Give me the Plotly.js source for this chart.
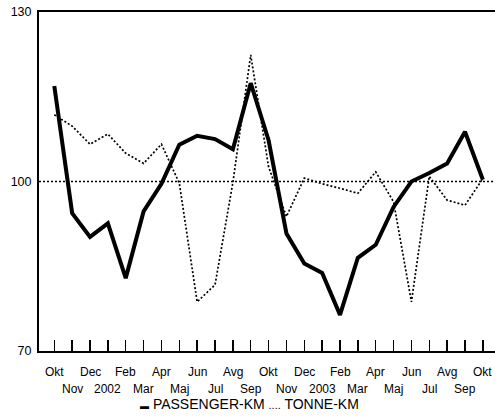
<!DOCTYPE html>
<html>
<head>
<meta charset="utf-8">
<script src="https://cdn.plot.ly/plotly-3.0.1.min.js"></script>
<style>
  html, body { margin: 0; padding: 0; background: #fff; }
  #chart { width: 495px; height: 419px; }
</style>
</head>
<body>
<div id="chart"></div>
<script>
// Month labels (Okt 2001 .. Okt 2003)
var months = ['Okt','Nov','Dec','2002','Feb','Mar','Apr','Maj','Jun','Jul','Avg','Sep',
              'Okt','Nov','Dec','2003','Feb','Mar','Apr','Maj','Jun','Jul','Avg','Sep','Okt'];
// Series values (index)
var passengerKm = [116.9, 94.4, 90.2, 92.6, 82.9, 94.7, 99.6, 106.5, 108.1, 107.5, 105.7, 117.4,
                   107.3, 90.8, 85.5, 83.8, 76.4, 86.5, 88.8, 95.5, 100.0, 101.5, 103.2, 108.8, 100.3];
var tonneKm     = [111.8, 109.8, 106.6, 108.4, 105.0, 103.2, 106.6, 99.7, 78.7, 81.7, 99.8, 122.4,
                   102.6, 93.8, 100.6, 99.6, 98.8, 97.9, 101.7, 96.4, 78.7, 100.9, 96.7, 95.8, 100.5];
var seriesNames = ['PASSENGER-KM', 'TONNE-KM'];
var yTicks = [70, 100, 130];
var baseLevel = 100;

var xIdx = months.map(function (m, i) { return i; });
var FONT = 'Liberation Sans, Arial, sans-serif';

var traces = [
  { x: xIdx, y: passengerKm, name: seriesNames[0], type: 'scatter', mode: 'lines',
    line: { color: '#000', width: 4 }, hoverinfo: 'skip' },
  { x: xIdx, y: tonneKm, name: seriesNames[1], type: 'scatter', mode: 'lines',
    line: { color: '#000', width: 1.7, dash: '2px,2px' }, hoverinfo: 'skip' }
];

var annotations = [];
months.forEach(function (m, i) {
  annotations.push({
    x: i, y: 0, xref: 'x', yref: 'paper', text: m, showarrow: false,
    xanchor: 'center', yanchor: 'middle', yshift: (i % 2 === 0) ? -21 : -38,
    font: { family: FONT, size: 12, color: '#000' }
  });
});
annotations.push({
  x: 0.4627, y: 0, xref: 'paper', yref: 'paper', showarrow: false,
  xanchor: 'center', yanchor: 'middle', yshift: -53,
  text: '<span style="font-size:9px">▬</span> ' + seriesNames[0] +
        ' <span style="font-size:11px">....</span> ' + seriesNames[1],
  font: { family: FONT, size: 14, color: '#000' }
});

var layout = {
  width: 495, height: 419,
  margin: { l: 39, r: 0, t: 12, b: 68, pad: 0 },
  paper_bgcolor: '#fff', plot_bgcolor: '#fff',
  showlegend: false,
  font: { family: FONT, size: 12, color: '#000' },
  xaxis: {
    range: [-0.857, 24.68], tickvals: xIdx, showticklabels: false,
    ticks: 'inside', ticklen: 11, tickwidth: 1.5, tickcolor: '#000',
    showline: true, linewidth: 2, linecolor: '#000', mirror: true,
    showgrid: false, zeroline: false, fixedrange: true
  },
  yaxis: {
    range: [70, 130], tickvals: yTicks, ticktext: yTicks.map(String),
    ticks: '', showline: true, linewidth: 2, linecolor: '#000',
    showgrid: false, zeroline: false, fixedrange: true, ticklabelstandoff: 3,
    tickfont: { family: FONT, size: 12.5, color: '#000' }
  },
  shapes: [
    { type: 'line', xref: 'paper', x0: 0, x1: 1, yref: 'y', y0: baseLevel, y1: baseLevel,
      line: { color: '#000', width: 1.5, dash: '2px,2px' }, layer: 'below' }
  ],
  annotations: annotations
};

Plotly.newPlot('chart', traces, layout, { staticPlot: true, displayModeBar: false });
</script>
</body>
</html>
